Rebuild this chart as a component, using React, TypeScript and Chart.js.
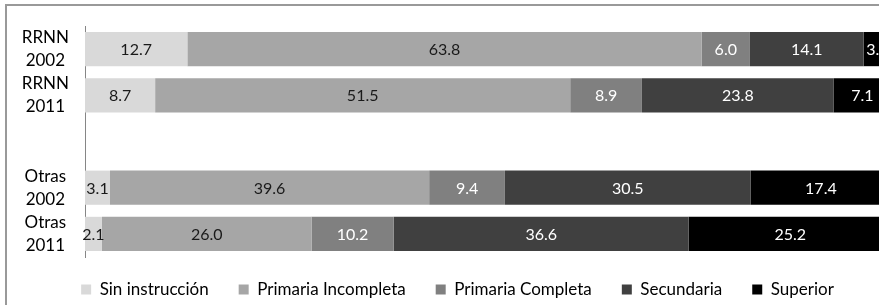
import React, { useEffect, useRef } from "react";
import { Chart, registerables } from "chart.js";

Chart.register(...registerables);

const categories: (string | string[])[] = [
  ["RRNN", "2002"],
  ["RRNN", "2011"],
  "",
  ["Otras", "2002"],
  ["Otras", "2011"],
];

const seriesNames = [
  "Sin instrucción",
  "Primaria Incompleta",
  "Primaria Completa",
  "Secundaria",
  "Superior",
];

const sinInstruccion = [12.7, 8.7, null, 3.1, 2.1];
const primariaIncompleta = [63.8, 51.5, null, 39.6, 26.0];
const primariaCompleta = [6.0, 8.9, null, 9.4, 10.2];
const secundaria = [14.1, 23.8, null, 30.5, 36.6];
const superior = [3.4, 7.1, null, 17.4, 25.2];

const seriesColors = ["#d9d9d9", "#a6a6a6", "#808080", "#404040", "#000000"];
const labelColors = ["#1a1a1a", "#1a1a1a", "#ffffff", "#ffffff", "#ffffff"];

const FONT = "Lato, 'Open Sans', sans-serif";

const valueLabels = {
  id: "valueLabels",
  afterDatasetsDraw(chart: any) {
    const ctx = chart.ctx;
    ctx.save();
    ctx.font = `16px ${FONT}`;
    ctx.textAlign = "center";
    ctx.textBaseline = "middle";
    chart.data.datasets.forEach((ds: any, di: number) => {
      const meta = chart.getDatasetMeta(di);
      meta.data.forEach((el: any, i: number) => {
        const v = ds.data[i];
        if (v === null || v === undefined) return;
        const cx = (el.x + el.base) / 2;
        ctx.fillStyle = labelColors[di];
        ctx.fillText(Number(v).toFixed(1), cx, el.y + 1);
      });
    });
    ctx.restore();
  },
};

// The original chart was wider than the cropped picture; its legend is
// centred on the full chart, so nudge the legend box accordingly.
const legendShift = {
  id: "legendShift",
  afterLayout(chart: any) {
    const lg = chart.legend;
    if (!lg) return;
    lg.left += 12;
    lg.right += 12;
    lg.top -= 6;
    lg.bottom -= 6;
  },
};

export default function App() {
  const ref = useRef<HTMLCanvasElement | null>(null);

  useEffect(() => {
    if (!ref.current) return;
    const seriesData = [
      sinInstruccion,
      primariaIncompleta,
      primariaCompleta,
      secundaria,
      superior,
    ];
    const chart = new Chart(ref.current, {
      type: "bar",
      data: {
        labels: categories,
        datasets: seriesData.map((d, i) => ({
          label: seriesNames[i],
          data: d,
          backgroundColor: seriesColors[i],
          borderWidth: 0,
          categoryPercentage: 1,
          barPercentage: 0.74,
        })),
      },
      options: {
        indexAxis: "y",
        responsive: false,
        animation: false,
        layout: { padding: { top: 26, right: 27, left: 0, bottom: -9 } },
        scales: {
          x: {
            stacked: true,
            display: false,
            min: 0,
            max: 100,
          },
          y: {
            stacked: true,
            grid: { display: false, drawTicks: false },
            border: { display: true, color: "#868686", width: 1 },
            ticks: {
              color: "#000",
              crossAlign: "center",
              autoSkip: false,
              padding: 16,
              font: { family: FONT, size: 17, lineHeight: 1.36 },
            },
            afterFit(scale: any) {
              scale.width = 85;
              scale.paddingTop = 0;
              scale.paddingBottom = 0;
            },
          },
        },
        plugins: {
          legend: {
            position: "bottom",
            labels: {
              boxWidth: 10,
              boxHeight: 10,
              padding: 30,
              color: "#000",
              font: { family: FONT, size: 17 },
            },
          },
          tooltip: { enabled: false },
        },
      },
      plugins: [valueLabels, legendShift],
    });
    return () => chart.destroy();
  }, []);

  return (
    <div
      style={{
        position: "fixed",
        left: 0,
        top: 0,
        width: 879,
        height: 305,
        background: "#fff",
        overflow: "hidden",
      }}
    >
      <div
        style={{
          position: "absolute",
          left: 5,
          top: 4,
          width: 900,
          height: 320,
          borderLeft: "2px solid #999",
          borderTop: "2px solid #999",
        }}
      />
      <canvas
        ref={ref}
        width={918}
        height={305}
        style={{ position: "absolute", left: 0, top: 0 }}
      />
    </div>
  );
}
